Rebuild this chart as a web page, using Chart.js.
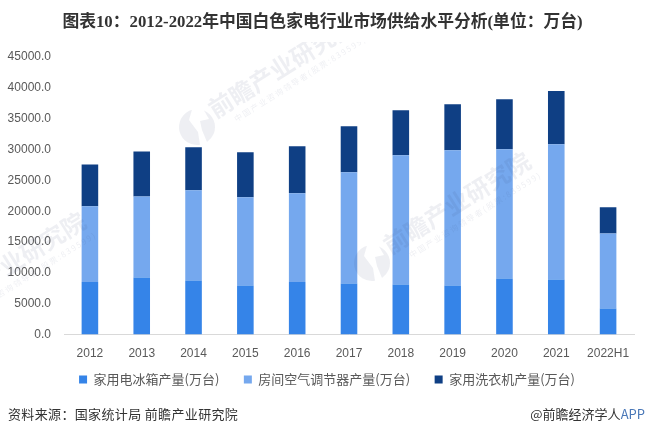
<!DOCTYPE html>
<html><head><meta charset="utf-8">
<script src="https://cdn.jsdelivr.net/npm/chart.js@4"></script>
<style>
html,body{margin:0;padding:0;background:#fff;width:645px;height:433px;overflow:hidden}
#wrap{position:relative;width:645px;height:433px}
canvas{position:absolute;left:0;top:0}
.t{position:absolute;font-family:"Noto Sans CJK SC","Noto Sans",sans-serif;white-space:nowrap}
</style></head><body>
<div id="wrap"><canvas id="c" width="645" height="433"></canvas>
<div class="t" id="src" style="left:8px;top:404px;font-size:13px;color:#333;letter-spacing:.35px">资料来源：国家统计局 前瞻产业研究院</div>
<div class="t" id="app" style="right:0;top:404px;font-size:13px;color:#333">@前瞻经济学人<span style="color:#4a78b8">APP</span></div>
</div>
<script>
const categories=["2012","2013","2014","2015","2016","2017","2018","2019","2020","2021","2022H1"];
const fridge=[8500,9260,8780,7960,8500,8290,8125,7960,9100,8940,4225];
const aircon=[12300,13140,14620,14300,14400,18035,20965,21940,20960,21935,12175];
const washer=[6800,7300,7000,7320,7650,7475,7310,7470,8130,8615,4240];
const titleText="图表10：2012-2022年中国白色家电行业市场供给水平分析(单位：万台)";
const seriesNames=["家用电冰箱产量(万台)","房间空气调节器产量(万台)","家用洗衣机产量(万台)"];
const colors=["#3584e8","#75a8ee","#0f3f84"];
const wmMain="前瞻产业研究院";
const wmSub="中国产业咨询领导者(股票:839599)";

const legendShift={id:'legendShift',afterLayout(chart){
  chart.legend.left+=10;chart.legend.right+=10;chart.legend.top-=14;chart.legend.bottom-=14;
  chart.titleBlock.left+=5.5;chart.titleBlock.right+=5.5;
}};
const watermark={id:'watermark',afterDatasetsDraw(chart){
  const ctx=chart.ctx;
  ctx.save();
  ctx.beginPath();ctx.rect(0,42,645,391);ctx.clip();
  [[197,127],[372,263],[-73,323]].forEach(([x,y])=>{
    ctx.save();
    ctx.translate(x,y);
    ctx.fillStyle='rgba(55,75,120,0.085)';
    ctx.beginPath();
    ctx.moveTo(-5,-17.5);ctx.arc(0,0,18,Math.atan2(-17.5,-5),Math.atan2(17.9,3),true);
    ctx.lineTo(1,5);ctx.lineTo(-8,-7);ctx.closePath();ctx.fill();
    ctx.beginPath();
    ctx.moveTo(7,-16.5);ctx.arc(0,0,18,Math.atan2(-16.5,7),Math.atan2(15,10),false);
    ctx.lineTo(5,3);ctx.lineTo(3,-6);ctx.lineTo(12,-8);ctx.closePath();ctx.fill();
    ctx.rotate(-32*Math.PI/180);
    ctx.textAlign='left';ctx.textBaseline='alphabetic';
    ctx.font='bold 24px "Noto Sans CJK SC"';
    ctx.fillText(wmMain,20,3);
    ctx.font='8px "Noto Sans CJK SC"';
    ctx.letterSpacing='1.6px';
    ctx.fillText(wmSub,36,17);
    ctx.restore();
  });
  ctx.restore();
}};

new Chart(document.getElementById('c'),{
  type:'bar',
  data:{labels:categories,datasets:[
    {label:seriesNames[0],data:fridge,backgroundColor:colors[0]},
    {label:seriesNames[1],data:aircon,backgroundColor:colors[1]},
    {label:seriesNames[2],data:washer,backgroundColor:colors[2]}
  ]},
  plugins:[watermark,legendShift],
  options:{
    responsive:false,animation:false,
    devicePixelRatio:1,
    layout:{padding:{left:0,right:11,top:0,bottom:23}},
    datasets:{bar:{categoryPercentage:1,barPercentage:0.32}},
    scales:{
      x:{stacked:true,
        grid:{display:false,drawTicks:false},
        border:{color:'#d9d9d9',width:1},
        ticks:{color:'#595959',font:{size:12,family:'"Liberation Sans"'},padding:12,maxRotation:0,autoSkip:false},
        afterFit(a){a.height=28;}
      },
      y:{stacked:true,min:0,max:45000,
        grid:{display:false,drawTicks:false},
        border:{display:false},
        ticks:{stepSize:5000,color:'#595959',font:{size:12,family:'"Liberation Sans"'},padding:13,
          callback:v=>v.toFixed(1)},
        afterFit(a){a.width=64;}
      }
    },
    plugins:{
      tooltip:{enabled:false},
      title:{display:true,text:titleText,color:'#333',
        font:{size:16.8,weight:'bold',family:'"Liberation Serif","Noto Sans CJK SC"'},
        padding:{top:13,bottom:24}},
      legend:{position:'bottom',
        labels:{boxWidth:8,boxHeight:8,padding:24.5,color:'#595959',font:{size:13,family:'"Noto Sans CJK SC"'}}}
    }
  }
});
</script></body></html>
